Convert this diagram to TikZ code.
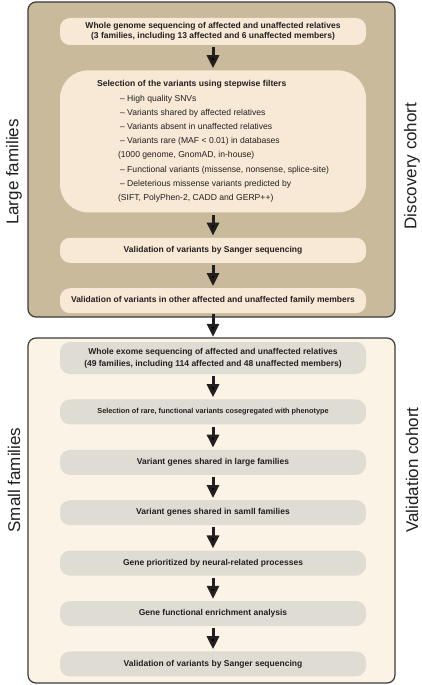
\documentclass[tikz,border=0pt]{standalone}
\usepackage{fontspec}
\setmainfont{Liberation Sans}
\usetikzlibrary{arrows.meta,positioning}
\definecolor{ink}{HTML}{231F20}
\definecolor{edge}{HTML}{3C3A38}
\definecolor{tanbg}{HTML}{C8BA9A}
\definecolor{cream}{HTML}{F8E9D7}
\definecolor{paleb}{HTML}{FAF3E6}
\definecolor{greybox}{HTML}{DFDDD3}

\begin{document}
\begin{tikzpicture}[x=1pt,y=1pt,node distance=25pt,>={Triangle[width=12pt,length=13pt]},every node/.append style={align=center,text=ink},
  stepbox/.style={fill=cream,rounded corners=10pt,minimum width=306pt,minimum height=25pt,inner sep=0pt,font=\fontsize{8.5}{9.5}\selectfont\bfseries},
  greystep/.style={stepbox,fill=greybox},
  cohort/.style={draw=edge,line width=1.2pt,rounded corners=8pt},
  flow/.style={->,draw=ink,line width=3pt,shorten <=2pt,shorten >=2pt},
  side/.style={rotate=90,inner sep=0pt,font=\fontsize{17}{17}\selectfont}]
    \useasboundingbox (0,0) rectangle (422,-685);

    % cohort panels
    \draw[cohort,fill=tanbg] (28,-2) rectangle (395,-317);
    \draw[cohort,fill=paleb] (28,-338) rectangle (395,-683);

    % discovery cohort
    \node [stepbox,minimum height=27pt] (WGS) at (213,-31.5) {Whole genome sequencing of affected and unaffected relatives\\
      (3 families, including 13 affected and 6 unaffected members)};
    \node [stepbox,below=of WGS,minimum height=142pt,rounded corners=28pt,align=left,font=\fontsize{8.6}{14.2}\selectfont] (Filt)
      {\textbf{Selection of the variants using stepwise filters}\\
       \hspace*{23pt}-- High quality SNVs\\
       \hspace*{23pt}-- Variants shared by affected relatives\\
       \hspace*{23pt}-- Variants absent in unaffected relatives\\
       \hspace*{23pt}-- Variants rare (MAF < 0.01) in databases\\
       \hspace*{21pt}(1000 genome, GnomAD, in-house)\\
       \hspace*{23pt}-- Functional variants (missense, nonsense, splice-site)\\
       \hspace*{23pt}-- Deleterious missense variants predicted by\\
       \hspace*{21pt}(SIFT, PolyPhen-2, CADD and GERP++)};
    \node [stepbox,below=of Filt] (Sang1) {Validation of variants by Sanger sequencing};
    \node [stepbox,below=of Sang1] (Fam) {Validation of variants in other affected and unaffected family members};

    % validation cohort
    \node [greystep,minimum height=32pt,font=\fontsize{8.5}{12.3}\selectfont\bfseries] (WES) at (213,-358) {Whole exome sequencing of affected and unaffected relatives\\
      (49 families, including 114 affected and 48 unaffected members)};
    \node [greystep,below=of WES,font=\fontsize{7.3}{9}\selectfont\bfseries] (Rare) {Selection of rare, functional variants cosegregated with phenotype};
    \node [greystep,below=of Rare] (LargeG) {Variant genes shared in large families};
    \node [greystep,below=of LargeG] (SmallG) {Variant genes shared in samll families};
    \node [greystep,below=of SmallG] (Prior) {Gene prioritized by neural-related processes};
    \node [greystep,below=of Prior] (Enrich) {Gene functional enrichment analysis};
    \node [greystep,below=of Enrich] (Sang2) {Validation of variants by Sanger sequencing};

    \path[flow] (WGS) edge (Filt)
                (Filt) edge (Sang1)
                (Sang1) edge (Fam)
                (Fam) edge[shorten <=1pt,shorten >=5pt] (WES)
                (WES) edge (Rare)
                (Rare) edge (LargeG)
                (LargeG) edge (SmallG)
                (SmallG) edge (Prior)
                (Prior) edge (Enrich)
                (Enrich) edge (Sang2);

    % side labels
    \node [side] (LF) at (14,-172) {Large families};
    \node [side] (DC) at (412,-166) {Discovery cohort};
    \node [side] (SF) at (14,-480) {Small families};
    \node [side] (VC) at (412,-470) {Validation cohort};
\end{tikzpicture}
\end{document}
